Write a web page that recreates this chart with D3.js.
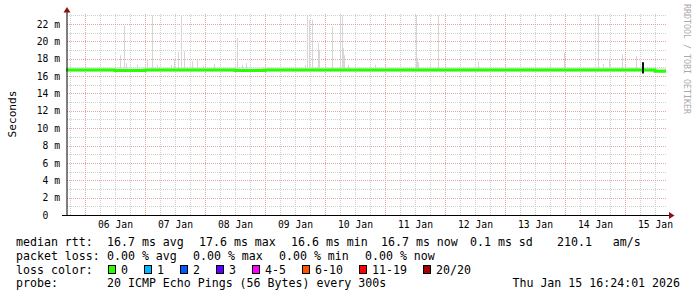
<!DOCTYPE html>
<html><head><meta charset="utf-8">
<script src="https://cdn.jsdelivr.net/npm/d3@7"></script>
<style>
body{margin:0;background:#fff}
svg{display:block}
text{font-family:"DejaVu Sans Mono",monospace;white-space:pre}
</style>
</head><body><svg id="c" width="697" height="297"></svg>
<script>
// ---------- data ----------
const startTime = "2026-01-05T16:24:01Z";
const endTime   = "2026-01-15T16:24:01Z";
const yTickValues = [0,2,4,6,8,10,12,14,16,18,20,22];
const dayLabelTimes = ["2026-01-06T12:00Z","2026-01-07T12:00Z","2026-01-08T12:00Z","2026-01-09T12:00Z","2026-01-10T12:00Z",
                       "2026-01-11T12:00Z","2026-01-12T12:00Z","2026-01-13T12:00Z","2026-01-14T12:00Z","2026-01-15T12:00Z"];
const medianTimes = ["2026-01-05T16:24Z","2026-01-06T00:00Z","2026-01-06T12:00Z","2026-01-07T00:00Z","2026-01-07T12:00Z",
  "2026-01-08T00:00Z","2026-01-08T12:00Z","2026-01-09T00:00Z","2026-01-09T12:00Z","2026-01-10T00:00Z","2026-01-10T12:00Z",
  "2026-01-11T00:00Z","2026-01-11T12:00Z","2026-01-12T00:00Z","2026-01-12T12:00Z","2026-01-13T00:00Z","2026-01-13T12:00Z",
  "2026-01-14T00:00Z","2026-01-14T12:00Z","2026-01-15T00:00Z","2026-01-15T12:00Z","2026-01-15T16:24Z"];
const medianValues = [16.7,16.7,16.65,16.7,16.7,16.7,16.65,16.7,16.7,16.7,16.7,16.7,16.7,16.7,16.7,16.7,16.7,16.7,16.7,16.7,16.55,16.55];
const smokeLow  = [16.5,16.5,16.5,16.5,16.5,16.5,16.5,16.5,16.5,16.5,16.5,16.5,16.5,16.5,16.5,16.5,16.5,16.5,16.5,16.5,16.4,16.4];
const smokeHigh = [17.0,17.0,17.0,17.0,17.0,17.0,17.0,17.0,17.0,17.0,17.0,17.0,17.0,17.0,17.0,17.0,17.0,17.0,17.0,17.0,16.9,16.9];
const spikeTimes = ["2026-01-06T14:00Z","2026-01-06T15:36Z","2026-01-06T16:24Z","2026-01-06T20:48Z","2026-01-07T00:48Z",
  "2026-01-07T02:48Z","2026-01-07T04:48Z","2026-01-07T10:24Z","2026-01-07T11:36Z","2026-01-07T13:12Z","2026-01-07T14:24Z",
  "2026-01-07T15:36Z","2026-01-07T18:48Z","2026-01-07T20:48Z","2026-01-07T23:12Z","2026-01-08T03:36Z","2026-01-08T12:48Z",
  "2026-01-08T14:48Z","2026-01-08T16:24Z","2026-01-09T16:00Z","2026-01-09T16:48Z","2026-01-09T17:36Z","2026-01-09T18:48Z",
  "2026-01-09T21:12Z","2026-01-09T21:36Z","2026-01-10T02:48Z","2026-01-10T06:00Z","2026-01-10T06:48Z","2026-01-10T07:12Z",
  "2026-01-10T07:36Z","2026-01-10T09:12Z","2026-01-10T20:00Z","2026-01-11T12:24Z","2026-01-11T12:48Z","2026-01-11T13:12Z",
  "2026-01-11T21:12Z","2026-01-12T13:12Z","2026-01-13T23:36Z","2026-01-14T13:12Z","2026-01-14T15:12Z","2026-01-14T17:36Z",
  "2026-01-14T22:48Z","2026-01-15T04:24Z"];
const spikeTops = [18.4,21.8,17.5,17.3,18.0,23.0,17.3,17.3,17.9,18.8,23.0,18.9,17.7,17.9,17.2,17.4,20.4,17.3,17.5,17.3,23.0,22.5,22.5,
  19.8,18.9,21.7,23.0,23.0,19.2,18.4,17.3,17.3,23.0,18.1,17.6,23.0,17.7,18.7,23.0,17.4,17.9,18.5,18.3];
const lossMarkTimes = ["2026-01-15T06:48Z"];
const lossMarkLow = [16.3];
const lossMarkHigh = [17.6];
const statRow1 = ["median rtt:","16.7 ms avg","17.6 ms max","16.6 ms min","16.7 ms now","0.1 ms sd","210.1   am/s"];
const statRow2 = ["packet loss:","0.00 % avg","0.00 % max","0.00 % min","0.00 % now"];
const lossLabels = ["0","1","2","3","4-5","6-10","11-19","20/20"];
const lossColors = ["#26ff00","#00b8ff","#0059ff","#5e00ff","#ff00ff","#ff5500","#ff0000","#a10000"];
const probeText = "20 ICMP Echo Pings (56 Bytes) every 300s";
const dateText = "Thu Jan 15 16:24:01 2026";

// ---------- chart ----------
const svg = d3.select("#c");
const P = d => new Date(d);
const x = d3.scaleUtc().domain([P(startTime), P(endTime)]).range([66, 666]);
const y = d3.scaleLinear().domain([0, 23.2]).range([215, 215 - 23.2 * 8.682]);
const plotTop = y(23.2);

// grid
const grid = svg.append("g");
const minorH = d3.range(1, 24, 2);
grid.selectAll(".hm").data(minorH).join("line")
  .attr("x1", 67).attr("x2", 666).attr("y1", d => Math.round(y(d)) + 0.5).attr("y2", d => Math.round(y(d)) + 0.5)
  .attr("stroke", "#cfcfcf").attr("stroke-dasharray", "1,1");
const hours = d3.utcHour.every(6).range(P(startTime), P(endTime));
grid.selectAll(".vm").data(hours.filter(h => h.getUTCHours() !== 0)).join("line")
  .attr("x1", d => Math.round(x(d)) + 0.5).attr("x2", d => Math.round(x(d)) + 0.5).attr("y1", 215).attr("y2", plotTop)
  .attr("stroke", "#cfcfcf").attr("stroke-dasharray", "1,1");
grid.selectAll(".hM").data(yTickValues.filter(v => v > 0)).join("line")
  .attr("x1", 67).attr("x2", 666).attr("y1", d => Math.round(y(d)) + 0.5).attr("y2", d => Math.round(y(d)) + 0.5)
  .attr("stroke", "#e6a5a5").attr("stroke-dasharray", "1,1");
grid.selectAll(".vM").data(d3.utcDay.range(P(startTime), P(endTime))).join("line")
  .attr("x1", d => Math.round(x(d)) + 0.5).attr("x2", d => Math.round(x(d)) + 0.5).attr("y1", 215).attr("y2", plotTop)
  .attr("stroke", "#e6a5a5").attr("stroke-dasharray", "1,1");

// smoke band
const band = medianTimes.map((t, i) => ({t: P(t), lo: smokeLow[i], hi: smokeHigh[i]}));
svg.append("path").datum(band)
  .attr("d", d3.area().x(d => x(d.t)).y0(d => y(d.lo)).y1(d => y(d.hi)).curve(d3.curveStepAfter))
  .attr("fill", "#e4e4e4");

// spikes
const pxMs = 1440 * 1000;
svg.append("g").selectAll("rect").data(spikeTimes.map((t, i) => ({t: P(t), v: spikeTops[i]}))).join("rect")
  .attr("x", d => Math.round(x(d.t)))
  .attr("width", d => Math.max(1, x(new Date(+d.t + pxMs)) - x(d.t)))
  .attr("y", d => y(d.v))
  .attr("height", d => y(16.9) - y(d.v))
  .attr("fill", "#d6d6d6");

// median line
const med = medianTimes.map((t, i) => ({t: P(t), v: medianValues[i]}));
svg.append("path").datum(med)
  .attr("d", d3.line().x(d => x(d.t)).y(d => y(d.v)).curve(d3.curveStepAfter))
  .attr("fill", "none").attr("stroke", "#26ff00").attr("stroke-width", 3);

// loss marks
svg.append("g").selectAll("rect").data(lossMarkTimes.map((t, i) => ({t: P(t), lo: lossMarkLow[i], hi: lossMarkHigh[i]}))).join("rect")
  .attr("x", d => Math.round(x(d.t))).attr("width", 2)
  .attr("y", d => y(d.hi)).attr("height", d => y(d.lo) - y(d.hi))
  .attr("fill", "#111");

// axes lines
svg.append("line").attr("x1", 67).attr("x2", 67).attr("y1", 215).attr("y2", 11).attr("stroke", "#000");
svg.append("line").attr("x1", 62).attr("x2", 670).attr("y1", 215.5).attr("y2", 215.5).attr("stroke", "#000");
svg.append("path").attr("d", "M63.5,12.5 L70.5,12.5 L67,7 Z").attr("fill", "#8b1010");
svg.append("path").attr("d", "M669,212 L669,219 L674.5,215.5 Z").attr("fill", "#8b1010");

// y axis labels
const ya = svg.append("g").attr("transform", "translate(67,0)")
  .call(d3.axisLeft(y).tickValues(yTickValues).tickSize(0).tickPadding(7).tickFormat(d => d === 0 ? "0  " : d + " m"));
ya.select(".domain").remove();
ya.selectAll("text").attr("font-size", "9.7px").attr("font-family", "DejaVu Sans Mono").attr("fill", "#000");

// x axis labels
const xa = svg.append("g").attr("transform", "translate(0,215)")
  .call(d3.axisBottom(x).tickValues(dayLabelTimes.map(P)).tickSize(0).tickPadding(6.6).tickFormat(d3.utcFormat("%d %b")));
xa.select(".domain").remove();
xa.selectAll("text").attr("font-size", "9.7px").attr("font-family", "DejaVu Sans Mono").attr("fill", "#000");

// titles
svg.append("text").attr("transform", "translate(15.5,114) rotate(-90)").attr("text-anchor", "middle")
  .attr("font-size", "11.2px").text("Seconds");
svg.append("text").attr("transform", "translate(684,4) rotate(90)").attr("font-size", "8.3px")
  .attr("fill", "#aaa").text("RRDTOOL / TOBI OETIKER");

// legend
const F = "11.6px";
const row1X = [16, 107, 199, 291, 381, 470, 557];
statRow1.forEach((s, i) => svg.append("text").attr("x", row1X[i]).attr("y", 245.5).attr("font-size", F).text(s));
const row2X = [16, 107, 193, 279, 365];
statRow2.forEach((s, i) => svg.append("text").attr("x", row2X[i]).attr("y", 259.5).attr("font-size", F).text(s));
svg.append("text").attr("x", 16).attr("y", 273.5).attr("font-size", F).text("loss color:");
let lx = 108;
lossLabels.forEach((l, i) => {
  svg.append("rect").attr("x", lx + 0.5).attr("y", 265.5).attr("width", 7).attr("height", 8)
    .attr("fill", lossColors[i]).attr("stroke", "#000");
  svg.append("text").attr("x", lx + 13).attr("y", 273.5).attr("font-size", F).text(l);
  lx = lx + 13 + l.length * 7 + 16;
});
svg.append("text").attr("x", 16).attr("y", 287).attr("font-size", F).text("probe:");
svg.append("text").attr("x", 107).attr("y", 287).attr("font-size", F).text(probeText);
svg.append("text").attr("x", 680).attr("y", 287).attr("text-anchor", "end").attr("font-size", F).text(dateText);
</script>
</body></html>
